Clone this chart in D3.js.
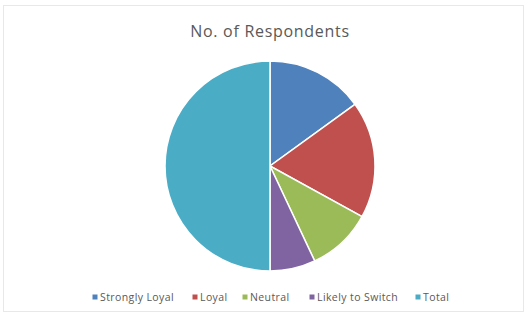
<!DOCTYPE html>
<html><head><meta charset="utf-8">
<script src="https://cdn.jsdelivr.net/npm/d3@7"></script>
<style>html,body{margin:0;padding:0;background:#fff;}</style>
</head><body>
<svg id="c" width="528" height="320"></svg>
<script>
const categories = ["Strongly Loyal", "Loyal", "Neutral", "Likely to Switch", "Total"];
const values = [30, 36, 20, 14, 100];
const colors = ["#4F81BD", "#C0504D", "#9BBB59", "#8064A2", "#4BACC6"];
const title = "No. of Respondents";

const svg = d3.select("#c");
svg.append("rect").attr("x", 3.5).attr("y", 5.5).attr("width", 520).attr("height", 306)
  .attr("fill", "#fff").attr("stroke", "#e8e8e8");

svg.append("text").attr("x", 270).attr("y", 37).attr("text-anchor", "middle")
  .attr("font-family", "Open Sans, Liberation Sans, sans-serif").attr("font-size", 16)
  .attr("letter-spacing", 0.7)
  .attr("fill", "#595959").text(title);

const data = categories.map((c, i) => ({ c, v: values[i], col: colors[i] }));
const pie = d3.pie().value(d => d.v).sort(null);
const arc = d3.arc().innerRadius(0).outerRadius(105);
const g = svg.append("g").attr("transform", "translate(270,166)");
g.selectAll("path").data(pie(data)).join("path")
  .attr("d", arc).attr("fill", d => d.data.col)
  .attr("stroke", "#fff").attr("stroke-width", 1.5);

const legX = [95, 195, 245, 312, 418];
const lg = svg.append("g");
data.forEach((d, i) => {
  lg.append("rect").attr("x", legX[i] - 2.5).attr("y", 294.5).attr("width", 5).attr("height", 5).attr("fill", d.col);
  lg.append("text").attr("x", legX[i] + 5).attr("y", 301)
    .attr("font-family", "Open Sans, Liberation Sans, sans-serif").attr("font-size", 10.5)
    .attr("letter-spacing", 0.4)
    .attr("fill", "#595959").text(d.c);
});
</script>
</body></html>
